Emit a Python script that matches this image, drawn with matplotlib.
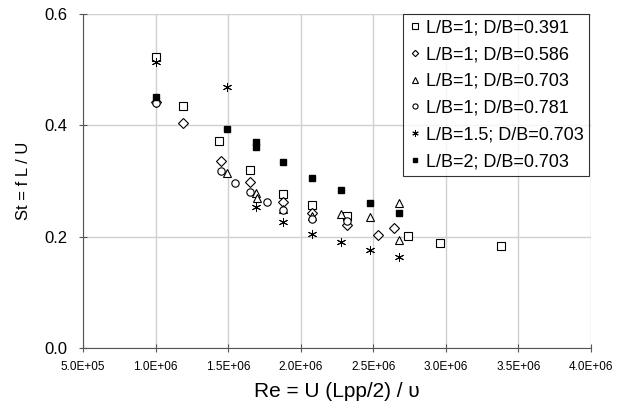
import matplotlib
matplotlib.use("Agg")
import matplotlib.pyplot as plt

plt.rcParams['font.family'] = ['Liberation Sans', 'DejaVu Sans']

# L/B=1; D/B=0.391
re_sq = [1.00e6, 1.19e6, 1.44e6, 1.65e6, 1.88e6, 2.08e6, 2.32e6, 2.74e6, 2.96e6, 3.38e6]
st_sq = [0.522, 0.435, 0.371, 0.320, 0.276, 0.257, 0.237, 0.201, 0.188, 0.183]

# L/B=1; D/B=0.586
re_di = [1.00e6, 1.19e6, 1.45e6, 1.65e6, 1.88e6, 2.08e6, 2.32e6, 2.53e6, 2.64e6]
st_di = [0.442, 0.405, 0.336, 0.298, 0.262, 0.242, 0.221, 0.203, 0.215]

# L/B=1; D/B=0.703
re_tr = [1.49e6, 1.69e6, 1.70e6, 1.88e6, 2.08e6, 2.28e6, 2.48e6, 2.68e6, 2.68e6]
st_tr = [0.315, 0.279, 0.270, 0.250, 0.238, 0.241, 0.236, 0.260, 0.194]

# L/B=1; D/B=0.781
re_ci = [1.00e6, 1.45e6, 1.545e6, 1.65e6, 1.77e6, 1.88e6, 2.08e6, 2.32e6]
st_ci = [0.440, 0.318, 0.296, 0.281, 0.262, 0.248, 0.231, 0.229]

# L/B=1.5; D/B=0.703
re_st = [1.00e6, 1.49e6, 1.69e6, 1.88e6, 2.08e6, 2.28e6, 2.48e6, 2.68e6]
st_st = [0.514, 0.468, 0.254, 0.226, 0.204, 0.191, 0.176, 0.163]

# L/B=2; D/B=0.703
re_fs = [1.00e6, 1.49e6, 1.69e6, 1.69e6, 1.88e6, 2.08e6, 2.28e6, 2.48e6, 2.68e6]
st_fs = [0.451, 0.394, 0.370, 0.361, 0.335, 0.305, 0.284, 0.261, 0.243]

labels = ["L/B=1; D/B=0.391", "L/B=1; D/B=0.586", "L/B=1; D/B=0.703",
          "L/B=1; D/B=0.781", "L/B=1.5; D/B=0.703", "L/B=2; D/B=0.703"]
x_ticks = [5.0e5, 1.0e6, 1.5e6, 2.0e6, 2.5e6, 3.0e6, 3.5e6, 4.0e6]
y_ticks = [0.0, 0.2, 0.4, 0.6]

fig = plt.figure(figsize=(6.24, 4.15), dpi=100)
ax = fig.add_axes([83 / 624, 1 - 348 / 415, 508 / 624, 334 / 415])

open_kw = dict(linestyle='none', markerfacecolor='white', markeredgecolor='black',
               markeredgewidth=0.8)
ax.plot(re_sq, st_sq, marker='s', markersize=5.2, label=labels[0], **open_kw)
ax.plot(re_di, st_di, marker='D', markersize=4.6, label=labels[1], **open_kw)
ax.plot(re_tr, st_tr, marker='^', markersize=6, label=labels[2], **open_kw)
ax.plot(re_ci, st_ci, marker='o', markersize=5.3, label=labels[3], **open_kw)
ax.plot(re_st, st_st, marker=(6, 2, 0), markersize=6.5, linestyle='none',
        color='black', markeredgewidth=0.7, label=labels[4])
ax.plot(re_fs, st_fs, marker='s', markersize=4.8, linestyle='none',
        color='black', label=labels[5])

ax.set_xlim(5.0e5, 4.0e6)
ax.set_ylim(0.0, 0.6)
ax.set_xticks(x_ticks)
ax.set_xticklabels([f"{v:.1E}" for v in x_ticks], fontsize=8.5)
ax.set_yticks(y_ticks)
ax.set_yticklabels([f"{v:.1f}" for v in y_ticks], fontsize=12)
ax.grid(True, color='#d0d0d0', linewidth=1)
ax.set_axisbelow(True)
for side in ('top', 'right'):
    ax.spines[side].set_visible(False)
for side in ('left', 'bottom'):
    ax.spines[side].set_color('#555555')
ax.tick_params(axis='both', direction='inout', length=6, color='#555555', width=0.8)
ax.tick_params(axis='x', pad=6)
ax.tick_params(axis='y', pad=8)

ax.set_xlabel("Re = U (Lpp/2) / \u03c5", fontsize=15, labelpad=7)
ax.set_ylabel("St = f L / U", fontsize=12, labelpad=10)

leg = ax.legend(loc='upper right', bbox_to_anchor=(589 / 624, 1 - 14 / 415),
                bbox_transform=fig.transFigure, fontsize=13, frameon=True,
                fancybox=False, edgecolor='black', borderpad=0.3,
                labelspacing=0.54, handletextpad=0.25, handlelength=0.7,
                borderaxespad=0, markerscale=0.7)
leg.get_frame().set_linewidth(0.8)

fig.savefig("out.png", dpi=100)
